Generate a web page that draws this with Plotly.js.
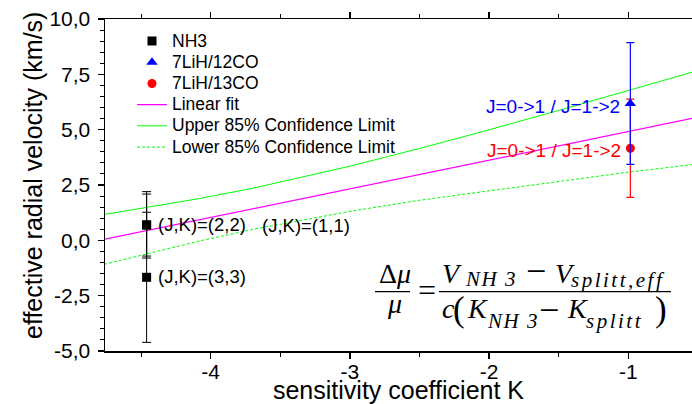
<!DOCTYPE html>
<html>
<head>
<meta charset="utf-8">
<script src="https://cdn.plot.ly/plotly-3.0.1.min.js"></script>
<style>
  html, body { margin: 0; padding: 0; background: #ffffff; }
  #chart { width: 692px; height: 404px; }
</style>
</head>
<body>
<div id="chart"></div>
<script>
// NH3 inversion lines, all at the same sensitivity coefficient
const nh3Labels = ['(J,K)=(2,2)', '(J,K)=(1,1)', '(J,K)=(3,3)'];
const nh3K = [-4.46, -4.46, -4.46];
const nh3V = [0.70, 0.69, -1.67];
const nh3Err = [1.50, 1.40, 2.94];

// 7LiH rotational transitions against CO
const lih12K = [-0.985];
const lih12V = [6.18];
const lih12Err = [2.75];
const lih13K = [-0.985];
const lih13V = [4.16];
const lih13Err = [2.22];
const lihLabel = 'J=0->1 / J=1->2';

// Linear fit and its 85% confidence band
const fitK = [-4.8, -0.5];
const fitV = [0.0, 5.56];
const bandK = [-4.8, -4.08, -3.7, -3.0, -2.5, -2.06, -1.5, -1.0, -0.5];
const upperV = [1.13, 1.89, 2.35, 3.35, 4.15, 4.89, 5.87, 6.76, 7.67];
const lowerV = [-1.14, -0.03, 0.49, 1.31, 1.81, 2.19, 2.67, 3.08, 3.45];

// Tick labels (decimal comma, plain hyphen minus)
const xTickVals = [-4, -3, -2, -1];
const xTickText = ['-4', '-3', '-2', '-1'];
const yTickVals = [-5, -2.5, 0, 2.5, 5, 7.5, 10];
const yTickText = ['-5,0', '-2,5', '0,0', '2,5', '5,0', '7,5', '10,0'];

const xTitle = 'sensitivity coefficient K';
const yTitle = 'effective radial velocity (km/s)';

const seriesNames = ['NH3', '7LiH/12CO', '7LiH/13CO', 'Linear fit',
                     'Upper 85% Confidence Limit', 'Lower 85% Confidence Limit'];

const GREEN = '#00ff00';
const MAGENTA = '#ff00ff';
const SANS = 'Liberation Sans, Arial, sans-serif';
const legendName = s => '<span style="font-size:17.5px">' + s + '</span>';

const traces = [
  { x: bandK, y: upperV, mode: 'lines', name: legendName(seriesNames[4]), legendrank: 5,
    line: { color: GREEN, width: 1 } },
  { x: bandK, y: lowerV, mode: 'lines', name: legendName(seriesNames[5]), legendrank: 6,
    line: { color: GREEN, width: 1, dash: '3px,2px' } },
  { x: fitK, y: fitV, mode: 'lines', name: legendName(seriesNames[3]), legendrank: 4,
    line: { color: MAGENTA, width: 1.2 } },
  { x: nh3K, y: nh3V, mode: 'markers', name: legendName(seriesNames[0]), legendrank: 1,
    marker: { symbol: 'square', size: 9, color: '#000000' },
    error_y: { type: 'data', array: nh3Err, visible: true, color: '#000000', thickness: 1, width: 4.5 } },
  { x: lih13K, y: lih13V, mode: 'markers', name: legendName(seriesNames[2]), legendrank: 3,
    marker: { symbol: 'circle', size: 9, color: '#ff0000' },
    error_y: { type: 'data', array: lih13Err, visible: true, color: '#ff0000', thickness: 1.2, width: 4 } },
  { x: lih12K, y: lih12V, mode: 'markers', name: legendName(seriesNames[1]), legendrank: 2,
    marker: { symbol: 'triangle-up', size: 10, color: '#0000ff' },
    error_y: { type: 'data', array: lih12Err, visible: true, color: '#0000ff', thickness: 1.2, width: 4 } }
];

// plot-area geometry used to place the formula in paper units
const W = 692, H = 404, ML = 105, MR = 0, MT = 19, MB = 53;
const PW = W - ML - MR, PH = H - MT - MB;
const px = v => (v - ML) / PW;
const py = v => 1 - (v - MT) / PH;

const SERIF = 'Liberation Serif, Times New Roman, serif';
function piece(text, left, centerY, size) {
  return { xref: 'paper', yref: 'paper', x: px(left), y: py(centerY),
           xanchor: 'left', yanchor: 'middle', text: text, showarrow: false,
           font: { family: SERIF, size: size, color: '#000000' } };
}
const subNH = '<span style="letter-spacing:1.5px"><i>NH 3</i></span>';

const formula = [
  piece('Δ<i>μ</i>', 377, 273.9, 28),
  piece('<i>μ</i>', 385, 303.2, 28),
  piece('=', 416, 289.9, 32),
  piece('<i>V</i>', 440, 273.9, 28),
  piece(subNH, 463, 279.4, 21),
  piece('−', 524, 270.9, 36),
  piece('<i>V</i>', 553, 273.9, 28),
  piece('<span style="letter-spacing:2.5px"><i>splitt,eff</i></span>', 569, 280, 21),
  piece('<i>c</i>', 440, 308.9, 28),
  piece('(', 451, 309.0, 35),
  piece('<i>K</i>', 465, 308.9, 28),
  piece(subNH, 485, 321.2, 21),
  piece('−', 537, 310.2, 36),
  piece('<i>K</i>', 565, 308.9, 28),
  piece('<span style="letter-spacing:2.5px"><i>splitt</i></span>', 584, 321.2, 21),
  piece(')', 653, 309.0, 35)
];

const fractionBars = [
  { type: 'line', xref: 'paper', yref: 'paper', x0: px(375), x1: px(410), y0: py(291.7), y1: py(291.7),
    line: { color: '#000000', width: 1.3 } },
  { type: 'line', xref: 'paper', yref: 'paper', x0: px(439), x1: px(671), y0: py(291.7), y1: py(291.7),
    line: { color: '#000000', width: 1.3 } }
];

const labelFont = { family: SANS, size: 18.5, color: '#000000' };
const pointLabels = [
  { x: nh3K[0], y: nh3V[0], text: nh3Labels[0], xanchor: 'left', xshift: 9, yshift: 0.5 },
  { x: nh3K[1], y: nh3V[1], text: nh3Labels[1], xanchor: 'left', xshift: 113, yshift: 0 },
  { x: nh3K[2], y: nh3V[2], text: nh3Labels[2], xanchor: 'left', xshift: 9, yshift: 0.5 }
].map(a => Object.assign(a, { xref: 'x', yref: 'y', yanchor: 'middle', showarrow: false, font: labelFont }));

const lihLabels = [
  { x: lih12K[0], y: lih12V[0], text: lihLabel, xshift: -8.5, yshift: -2.5, color: '#0000ff' },
  { x: lih13K[0], y: lih13V[0], text: lihLabel, xshift: -7, yshift: -1.8, color: '#ff0000' }
].map(a => ({ xref: 'x', yref: 'y', x: a.x, y: a.y, text: a.text, xanchor: 'right', yanchor: 'middle',
              xshift: a.xshift, yshift: a.yshift, showarrow: false,
              font: { family: SANS, size: 19, color: a.color } }));

// vertical axis title, set beside the tick labels
const yTitleNote = { xref: 'paper', yref: 'paper', x: px(33), y: py(176), xanchor: 'center', yanchor: 'middle',
                     text: yTitle, textangle: -90, showarrow: false,
                     font: { family: SANS, size: 25, color: '#000000' } };

const axisCommon = {
  showline: true, linecolor: '#000000', linewidth: 1.5,
  ticks: 'outside', ticklen: 6, tickwidth: 1.3, tickcolor: '#000000',
  showgrid: false, zeroline: false, tickmode: 'array',
  tickfont: { family: SANS, size: 21, color: '#000000' }
};

const layout = {
  width: W, height: H,
  margin: { l: ML, r: MR, t: MT, b: MB, pad: 0 },
  paper_bgcolor: '#ffffff', plot_bgcolor: '#ffffff',
  font: { family: SANS, color: '#000000' },
  showlegend: true,
  legend: { x: px(132), y: py(25.5), xanchor: 'left', yanchor: 'top', traceorder: 'normal',
            bgcolor: 'rgba(0,0,0,0)', borderwidth: 0,
            font: { family: SANS, size: 14, color: '#000000' } },
  xaxis: Object.assign({}, axisCommon, {
    range: [-4.759, -0.542], tickvals: xTickVals, ticktext: xTickText,
    mirror: 'ticks', ticklabelstandoff: -5,
    minor: { dtick: 0.5, tick0: 0, ticks: 'outside', ticklen: 4, tickwidth: 1, tickcolor: '#000000', showgrid: false },
    title: { text: xTitle, standoff: 14, font: { family: SANS, size: 25, color: '#000000' } }
  }),
  yaxis: Object.assign({}, axisCommon, {
    range: [-5, 10], tickvals: yTickVals, ticktext: yTickText, ticklabelstandoff: 3,
    minor: { dtick: 0.5, tick0: 0, ticks: 'outside', ticklen: 3.5, tickwidth: 1, tickcolor: '#000000', showgrid: false }
  }),
  annotations: formula.concat(pointLabels, lihLabels, [yTitleNote]),
  shapes: fractionBars
};

Plotly.newPlot('chart', traces, layout, { displayModeBar: false, staticPlot: true });
</script>
</body>
</html>
